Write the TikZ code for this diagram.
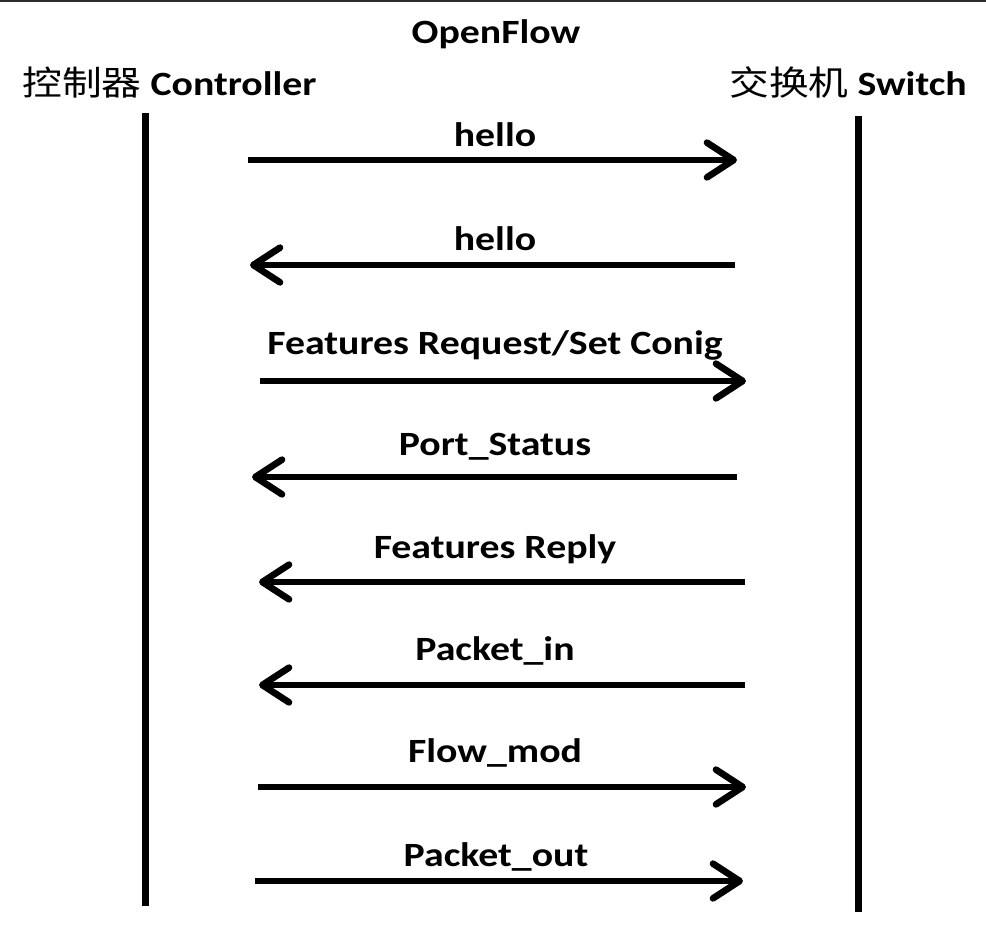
\documentclass[tikz,border=0pt]{standalone}
\usepackage{fontspec}
\setmainfont{Carlito}[FakeStretch=1.17]
\newfontfamily\cjk{Noto Sans CJK SC}[FakeStretch=1.17]
\usetikzlibrary{arrows.meta}
\tikzset{
  lbl/.style={inner sep=0pt, anchor=base, font=\fontsize{25.5pt}{29pt}\selectfont\bfseries},
  lifeline/.style={line width=5.25pt, black},
  msg/.style={line width=5pt, black, -{Straight Barb[length=20pt,width=26pt,round]}},
}
\begin{document}
\begin{tikzpicture}[x=0.75pt,y=-0.75pt]
\useasboundingbox (0,0) rectangle (986,936);
\draw[line width=1.5pt, black!82] (0,0.8) -- (986,0.8);
% titles
\node[lbl] (title) at (496,43) {OpenFlow};
\node[lbl, anchor=base west] (ctrl) at (22,95) {{\cjk\mdseries 控制器} Controller};
\node[lbl, anchor=base east] (sw) at (967,95) {{\cjk\mdseries 交换机} Switch};
% lifelines
\coordinate (ctop) at (145,113);
\coordinate (cbot) at (145,906);
\coordinate (stop) at (858,116);
\coordinate (sbot) at (858,912);
\draw[lifeline] (ctop) -- (cbot);
\draw[lifeline] (stop) -- (sbot);
% message endpoints
\coordinate (m1a) at (248,160); \coordinate (m1b) at (737,160);
\coordinate (m2a) at (735,265); \coordinate (m2b) at (250,265);
\coordinate (m3a) at (260,381); \coordinate (m3b) at (746,381);
\coordinate (m4a) at (737,477); \coordinate (m4b) at (252,477);
\coordinate (m5a) at (745,582); \coordinate (m5b) at (259,582);
\coordinate (m6a) at (745,685); \coordinate (m6b) at (259,685);
\coordinate (m7a) at (258,787); \coordinate (m7b) at (746,787);
\coordinate (m8a) at (255,881); \coordinate (m8b) at (743,881);
\draw[msg] (m1a) -- (m1b);
\draw[msg] (m2a) -- (m2b);
\draw[msg] (m3a) -- (m3b);
\draw[msg] (m4a) -- (m4b);
\draw[msg] (m5a) -- (m5b);
\draw[msg] (m6a) -- (m6b);
\draw[msg] (m7a) -- (m7b);
\draw[msg] (m8a) -- (m8b);
% labels
\node[lbl] (l1) at (495,146) {hello};
\node[lbl] (l2) at (495,250) {hello};
\node[lbl] (l3) at (495,354) {Features Request/Set Conig};
\node[lbl] (l4) at (495,455) {Port\_Status};
\node[lbl] (l5) at (495,558) {Features Reply};
\node[lbl] (l6) at (495,660) {Packet\_in};
\node[lbl] (l7) at (495,762) {Flow\_mod};
\node[lbl] (l8) at (496,866) {Packet\_out};
\end{tikzpicture}
\end{document}
